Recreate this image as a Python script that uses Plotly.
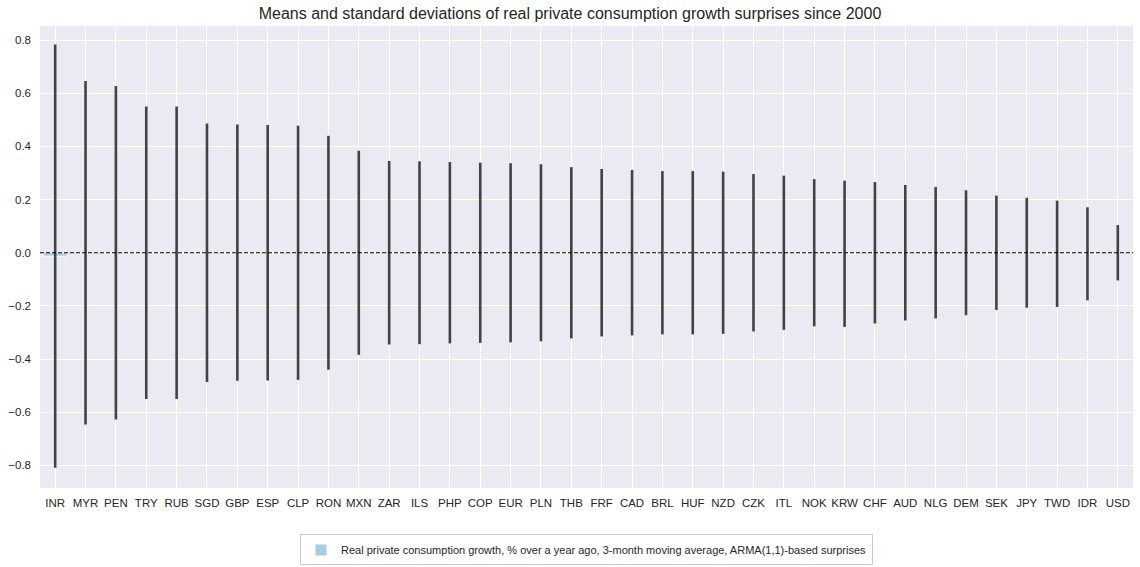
import plotly.graph_objects as go

categories = ["INR", "MYR", "PEN", "TRY", "RUB", "SGD", "GBP", "ESP", "CLP", "RON",
              "MXN", "ZAR", "ILS", "PHP", "COP", "EUR", "PLN", "THB", "FRF", "CAD",
              "BRL", "HUF", "NZD", "CZK", "ITL", "NOK", "KRW", "CHF", "AUD", "NLG",
              "DEM", "SEK", "JPY", "TWD", "IDR", "USD"]

means = [-0.013, 0.0, 0.0, 0.0, 0.0, 0.0, 0.0, 0.0, 0.0, 0.0,
         0.0, 0.0, 0.0, 0.0, 0.0, 0.0, 0.0, 0.0, 0.0, 0.0,
         0.0, 0.0, 0.0, 0.0, 0.0, 0.0, -0.004, 0.0, 0.0, 0.0,
         0.0, 0.0, 0.0, -0.004, -0.004, 0.0]

stds = [0.796, 0.646, 0.627, 0.550, 0.550, 0.486, 0.482, 0.481, 0.478, 0.440,
        0.384, 0.345, 0.344, 0.341, 0.339, 0.337, 0.333, 0.322, 0.315, 0.311,
        0.307, 0.307, 0.305, 0.296, 0.290, 0.277, 0.275, 0.266, 0.255, 0.247,
        0.235, 0.215, 0.207, 0.200, 0.175, 0.104]

series_name = "Real private consumption growth, % over a year ago, 3-month moving average, ARMA(1,1)-based surprises"
title = "Means and standard deviations of real private consumption growth surprises since 2000"
y_ticks = [-0.8, -0.6, -0.4, -0.2, 0.0, 0.2, 0.4, 0.6, 0.8]

font_family = "Liberation Sans, Arial, sans-serif"
text_color = "#262626"

fig = go.Figure()
fig.add_trace(go.Bar(
    x=categories,
    y=means,
    name=series_name,
    width=0.8,
    marker=dict(color="#a6cee3", line=dict(color="white", width=1)),
    error_y=dict(type="data", array=stds, symmetric=True,
                 color="#424242", thickness=2.6, width=0),
    showlegend=True,
))

fig.add_shape(type="line", xref="paper", x0=0, x1=1, yref="y", y0=0, y1=0,
              line=dict(color="black", width=1, dash="4px,2px"), layer="above")

fig.update_layout(
    width=1140, height=567,
    margin=dict(l=40, r=7, t=26, b=79, autoexpand=False),
    paper_bgcolor="white",
    plot_bgcolor="#EAEAF2",
    font=dict(family=font_family, size=11, color=text_color),
    title=dict(text=title, x=0.5, xanchor="center", y=0.977, yanchor="middle",
               font=dict(size=16, color=text_color)),
    bargap=0.2,
    legend=dict(orientation="h", x=0.5, xanchor="center",
                yref="container", y=0.030, yanchor="middle",
                bgcolor="white", bordercolor="#cccccc", borderwidth=1,
                font=dict(size=11, color=text_color)),
    xaxis=dict(type="category", range=[-0.5, len(categories) - 0.5],
               showgrid=True, gridcolor="white", gridwidth=1,
               ticks="", showline=False, zeroline=False, automargin=False,
               ticklabelstandoff=6,
               tickfont=dict(size=11.5, color=text_color)),
    yaxis=dict(range=[-0.885, 0.853], tickvals=y_ticks, tickformat=".1f",
               showgrid=True, gridcolor="white", gridwidth=1,
               ticks="", showline=False, zeroline=False, automargin=False,
               ticklabelstandoff=8,
               tickfont=dict(size=11.5, color=text_color)),
)

fig.write_html("out.html", config={"displayModeBar": False},
               post_script="document.body.style.margin='0';")
